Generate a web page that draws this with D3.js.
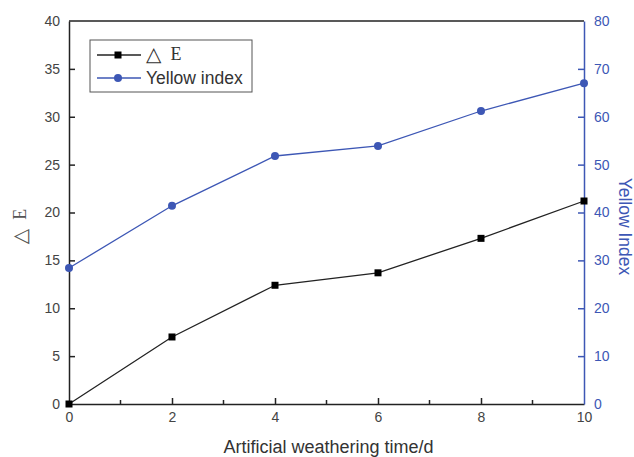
<!DOCTYPE html>
<html>
<head>
<meta charset="utf-8">
<script src="https://cdn.jsdelivr.net/npm/d3@7"></script>
<style>
  body { margin: 0; background: #fff; }
  text { font-family: "Liberation Sans", Arial, sans-serif; }
</style>
</head>
<body>
<svg id="chart"></svg>
<script>
// data
var days = [0, 2, 4, 6, 8, 10];
var deltaE = [0, 7.0, 12.4, 13.7, 17.3, 21.2];
var yellowIndex = [28.4, 41.4, 51.8, 53.9, 61.2, 67.0];
var leftTicks = [0, 5, 10, 15, 20, 25, 30, 35, 40];
var rightTicks = [0, 10, 20, 30, 40, 50, 60, 70, 80];
var xTicks = [0, 2, 4, 6, 8, 10];
var xMinor = [1, 3, 5, 7, 9];

var blue = "#3d57b5";

var margin = {top: 21, right: 50, bottom: 53, left: 69},
    width = 634 - margin.left - margin.right,
    height = 457 - margin.top - margin.bottom;

var svg = d3.select("#chart")
    .attr("width", 634)
    .attr("height", 457)
    .append("g")
    .attr("transform", "translate(" + margin.left + "," + margin.top + ")");

var x = d3.scaleLinear().domain([0, 10]).range([0, width]);
var yL = d3.scaleLinear().domain([0, 40]).range([height, 0]);
var yR = d3.scaleLinear().domain([0, 80]).range([height, 0]);

// top border
svg.append("line")
    .attr("x1", 0).attr("x2", width)
    .attr("y1", 0).attr("y2", 0)
    .attr("stroke", "#222").attr("stroke-width", 1.5);

// bottom axis, ticks pointing in
var xAxis = svg.append("g")
    .attr("transform", "translate(0," + height + ")")
    .call(d3.axisBottom(x).tickValues(xTicks).tickSize(-6).tickPadding(14).tickSizeOuter(0));
xAxis.selectAll(".tick").filter(function(d){ return d === 0 || d === 10; }).select("line").remove();
xAxis.selectAll("g.minor").data(xMinor).enter().append("line")
    .attr("x1", function(d){ return x(d); }).attr("x2", function(d){ return x(d); })
    .attr("y1", 0).attr("y2", -4)
    .attr("stroke", "#222").attr("stroke-width", 1.5);

// left axis
var leftAxis = svg.append("g")
    .call(d3.axisLeft(yL).tickValues(leftTicks).tickSize(-6).tickPadding(9).tickSizeOuter(0));
leftAxis.selectAll(".tick").filter(function(d){ return d === 0 || d === 40; }).select("line").remove();

// right axis
var rightAxis = svg.append("g")
    .attr("transform", "translate(" + width + ",0)")
    .call(d3.axisRight(yR).tickValues(rightTicks).tickSize(-6).tickPadding(10).tickSizeOuter(0));
rightAxis.selectAll(".tick").filter(function(d){ return d === 0 || d === 80; }).select("line").remove();

[xAxis, leftAxis].forEach(function(a){
    a.select(".domain").attr("stroke", "#222").attr("stroke-width", 1.5);
    a.selectAll(".tick line").attr("stroke", "#222").attr("stroke-width", 1.5);
    a.selectAll(".tick text").attr("fill", "#444").style("font-size", "14px");
});
rightAxis.select(".domain").attr("stroke", blue).attr("stroke-width", 1.5);
rightAxis.selectAll(".tick line").attr("stroke", blue).attr("stroke-width", 1.5);
rightAxis.selectAll(".tick text").attr("fill", blue).style("font-size", "14px");
xAxis.selectAll(".tick text").attr("dy", "0.3em");

// lines
var lineE = d3.line()
    .x(function(d, i){ return x(days[i]); })
    .y(function(d){ return yL(d); });
var lineY = d3.line()
    .x(function(d, i){ return x(days[i]); })
    .y(function(d){ return yR(d); });

svg.append("path").datum(deltaE)
    .attr("d", lineE).attr("fill", "none")
    .attr("stroke", "#222").attr("stroke-width", 1.3);

svg.append("path").datum(yellowIndex)
    .attr("d", lineY).attr("fill", "none")
    .attr("stroke", blue).attr("stroke-width", 1.3);

svg.selectAll(".sq").data(deltaE).enter().append("rect")
    .attr("class", "sq")
    .attr("x", function(d, i){ return x(days[i]) - 3.5; })
    .attr("y", function(d){ return yL(d) - 3.5; })
    .attr("width", 7).attr("height", 7)
    .attr("fill", "#000");

svg.selectAll(".dot").data(yellowIndex).enter().append("circle")
    .attr("class", "dot")
    .attr("cx", function(d, i){ return x(days[i]); })
    .attr("cy", function(d){ return yR(d); })
    .attr("r", 4)
    .attr("fill", blue);

// axis titles
svg.append("text")
    .attr("x", width / 2 + 2).attr("y", height + 49)
    .attr("text-anchor", "middle")
    .attr("fill", "#333")
    .style("font-size", "18px")
    .text("Artificial weathering time/d");

// "△ E" label: triangle in a sans font, E in serif
function deltaLabel(sel) {
    sel.append("tspan")
        .style("font-family", "'DejaVu Sans', sans-serif")
        .style("font-size", "20px")
        .text("△");
    sel.append("tspan")
        .style("font-family", "'Liberation Serif', serif")
        .style("font-size", "18px")
        .attr("dx", 9)
        .attr("dy", -1)
        .text("E");
}

var yLabel = svg.append("text")
    .attr("transform", "translate(-42," + (height / 2 + 14) + ") rotate(-90)")
    .attr("text-anchor", "middle")
    .attr("fill", "#555");
deltaLabel(yLabel);

svg.append("text")
    .attr("transform", "translate(" + (width + 35) + "," + (height / 2 + 14) + ") rotate(90)")
    .attr("text-anchor", "middle")
    .attr("fill", blue)
    .style("font-size", "17.5px")
    .text("Yellow Index");

// legend
var legend = svg.append("g").attr("transform", "translate(21,19)");
legend.append("rect")
    .attr("x", 0).attr("y", 0)
    .attr("width", 162).attr("height", 52)
    .attr("fill", "#fff").attr("stroke", "#555").attr("stroke-width", 1);

var legendItems = [
    {name: "△ E", color: "#222", shape: "square"},
    {name: "Yellow index", color: blue, shape: "circle"}
];
legendItems.forEach(function(item, i){
    var gy = 15 + i * 23;
    legend.append("line")
        .attr("x1", 7).attr("x2", 51)
        .attr("y1", gy).attr("y2", gy)
        .attr("stroke", item.color).attr("stroke-width", 1.3);
    if (item.shape === "square") {
        legend.append("rect")
            .attr("x", 28 - 3.5).attr("y", gy - 3.5)
            .attr("width", 7).attr("height", 7)
            .attr("fill", "#000");
    } else {
        legend.append("circle")
            .attr("cx", 28).attr("cy", gy).attr("r", 4)
            .attr("fill", item.color);
    }
    var t = legend.append("text")
        .attr("x", 56).attr("y", gy + 6)
        .attr("fill", "#333");
    if (item.shape === "square") {
        deltaLabel(t);
    } else {
        t.style("font-size", "17.5px").text(item.name);
    }
});
</script>
</body>
</html>
